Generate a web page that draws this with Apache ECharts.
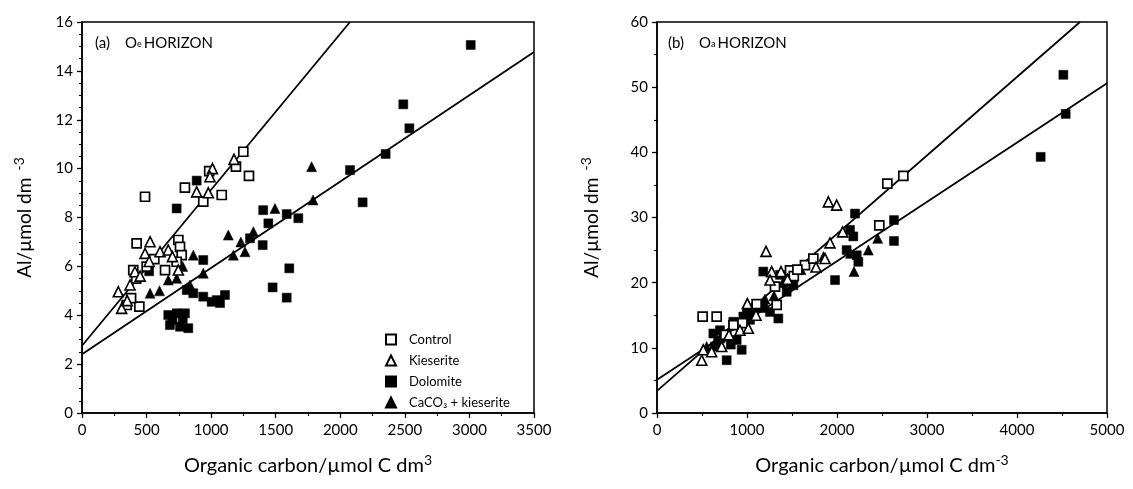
<!DOCTYPE html>
<html>
<head>
<meta charset="utf-8">
<script src="https://cdn.jsdelivr.net/npm/echarts@6/dist/echarts.min.js"></script>
<style>
  html, body { margin: 0; padding: 0; background: #fff; }
  #chart { width: 1133px; height: 489px; }
</style>
</head>
<body>
<div id="chart"></div>
<script>
// ---- Panel (a): Oe horizon — [organic C, Al] ----
const oeControl = [[1249,10.69],[1192,10.08],[1293,9.70],[985,9.9],[797,9.22],[1082,8.92],[488,8.85],[939,8.65],[423,6.94],[746,7.08],[759,6.8],[772,6.46],[643,5.85],[397,5.85],[501,5.99],[346,4.42],[444,4.35],[733,6.19],[560,6.3],[420,5.5],[380,4.7]];
const oeKieserite = [[1177,10.38],[1010,10.0],[991,9.67],[888,9.05],[978,9.01],[281,4.96],[307,4.28],[527,7.01],[488,6.53],[604,6.6],[668,6.67],[746,5.85],[372,5.24],[410,5.78],[520,6.2],[450,5.6],[350,4.6],[700,6.4]];
const oeDolomite = [[888,9.51],[733,8.37],[3010,15.06],[2488,12.63],[2535,11.65],[2351,10.6],[2075,9.94],[2173,8.62],[1403,8.30],[1585,8.14],[1675,7.97],[1443,7.76],[1301,7.15],[1399,6.87],[1605,5.92],[1476,5.14],[1585,4.72],[939,6.26],[811,5.03],[862,4.9],[939,4.76],[1004,4.55],[1043,4.62],[1107,4.83],[1069,4.5],[668,4.01],[733,4.08],[797,4.08],[681,3.6],[759,3.53],[823,3.47],[700,3.8],[780,3.85],[520,5.8]];
const oeCaco3 = [[1778,10.08],[1789,8.72],[1494,8.37],[1327,7.42],[1133,7.28],[1262,6.6],[1172,6.46],[862,6.46],[939,5.72],[836,5.24],[527,4.9],[668,5.44],[733,5.51],[1230,7.0],[600,5.0],[780,6.0]];
const oeFitSteep = [[0,2.75],[2075,16]];
const oeFitShallow = [[0,2.4],[3500,14.77]];

// ---- Panel (b): Oa horizon — [organic C, Al] ----
const oaControl = [[507,14.8],[663,14.8],[1107,16.7],[1330,16.6],[1478,21.9],[1644,22.7],[1737,23.7],[2470,28.8],[2559,35.2],[2737,36.4],[1311,19.4],[850,13.5],[760,12.0],[950,13.8],[1520,21.0],[1560,22.0]];
const oaKieserite = [[497,8.1],[514,9.7],[607,9.4],[719,10.2],[922,12.7],[1015,13.0],[1004,16.8],[1211,24.8],[1274,21.7],[1378,21.7],[1256,20.4],[1767,22.4],[1867,23.7],[1922,26.1],[2063,27.8],[1904,32.4],[1996,31.9],[800,12.0],[1100,15.0],[1450,20.5]];
const oaDolomite = [[4515,51.9],[4541,45.9],[4263,39.3],[2200,30.6],[2633,29.6],[2633,26.4],[2144,28.1],[2181,27.1],[2107,25.0],[2219,24.2],[2237,23.2],[1978,20.4],[1181,21.7],[1367,21.2],[1441,20.1],[1515,19.6],[1441,18.6],[1181,16.1],[1256,15.5],[1348,14.5],[700,12.7],[848,14.0],[959,14.8],[1033,14.3],[774,11.7],[885,11.2],[941,9.7],[774,8.1],[644,10.2],[626,12.2],[1000,15.5],[1100,16.2],[680,11.0],[820,10.5]];
const oaCaco3 = [[2452,26.8],[2348,25.0],[2189,21.7],[552,10.2],[700,11.5],[900,13.5],[1050,15.5],[1200,17.5],[1400,20.0],[1600,22.0],[2150,24.5],[1850,24.0],[1300,18.0]];
const oaFitSteep = [[0,3.4],[4700,60]];
const oaFitShallow = [[0,5.1],[5000,50.6]];

// ---- Axis ranges and tick steps ----
const xRangeA = [0, 3500, 500];
const yRangeA = [0, 16, 2];
const xRangeB = [0, 5000, 1000];
const yRangeB = [0, 60, 10];

const seriesNames = ['Control', 'Kieserite', 'Dolomite', 'CaCO\u2083 + kieserite'];

const FONT = 'Lato, "DejaVu Sans", sans-serif';
const INK = '#000';

const symbolStyles = [
  { symbol: 'rect', symbolSize: 9, itemStyle: { color: '#fff', borderColor: INK, borderWidth: 1.7, opacity: 1 } },
  { symbol: 'triangle', symbolSize: 10, itemStyle: { color: '#fff', borderColor: INK, borderWidth: 1.6, opacity: 1 } },
  { symbol: 'rect', symbolSize: 9, itemStyle: { color: INK, borderColor: INK, borderWidth: 0.5, opacity: 1 } },
  { symbol: 'triangle', symbolSize: 10, itemStyle: { color: INK, borderColor: INK, borderWidth: 0.5, opacity: 1 } }
];

function scatter(idx, gridIdx, data) {
  return Object.assign({
    type: 'scatter', name: seriesNames[idx], xAxisIndex: gridIdx, yAxisIndex: gridIdx,
    data: data, z: 3, animation: false
  }, symbolStyles[idx]);
}
function fitLine(gridIdx, data) {
  return {
    type: 'line', xAxisIndex: gridIdx, yAxisIndex: gridIdx, data: data,
    symbol: 'none', lineStyle: { color: INK, width: 1.8 }, z: 2, animation: false,
    silent: true
  };
}

const plainNumber = v => String(v);

const axisBase = {
  axisLine: { show: true, onZero: false, lineStyle: { color: INK, width: 1.5 } },
  axisTick: { show: true, inside: false, length: 5, lineStyle: { color: INK, width: 1.3 } },
  minorTick: { show: true, length: 3, lineStyle: { color: INK, width: 1.1 } },
  splitLine: { show: false },
  axisLabel: { color: INK, fontFamily: FONT, fontSize: 15, formatter: plainNumber }
};

function xAxis(gridIdx, r, nameText) {
  return Object.assign({}, axisBase, {
    type: 'value', gridIndex: gridIdx, min: r[0], max: r[1], interval: r[2],
    minorTick: Object.assign({}, axisBase.minorTick, { splitNumber: 2 }),
    axisLabel: Object.assign({}, axisBase.axisLabel, { margin: 10 }),
    name: nameText, nameLocation: 'middle', nameGap: 40,
    nameTextStyle: {
      color: INK, fontFamily: FONT, fontSize: 20,
      rich: {
        t: { fontFamily: FONT, fontSize: 20, color: INK },
        sup: { fontFamily: FONT, fontSize: 14, color: INK, padding: [0, 0, 11, 0] }
      }
    }
  });
}
function yAxis(gridIdx, r, minorSplit, gap) {
  return Object.assign({}, axisBase, {
    type: 'value', gridIndex: gridIdx, min: r[0], max: r[1], interval: r[2],
    minorTick: Object.assign({}, axisBase.minorTick, { splitNumber: minorSplit }),
    axisLabel: Object.assign({}, axisBase.axisLabel, { margin: 9 }),
    name: '{t|Al/\u00b5mol dm}{sup|  -3}', nameLocation: 'middle', nameGap: gap, nameRotate: 90,
    nameTextStyle: {
      color: INK, fontFamily: FONT, fontSize: 19,
      rich: {
        t: { fontFamily: FONT, fontSize: 19, color: INK },
        sup: { fontFamily: FONT, fontSize: 14, color: INK, padding: [0, 0, 12, 0] }
      }
    }
  });
}

const panelTitleRich = {
  p: { fontFamily: FONT, fontSize: 15, fontWeight: 'normal', color: INK },
  o: { fontFamily: FONT, fontSize: 15, fontWeight: 'normal', color: INK },
  s: { fontFamily: FONT, fontSize: 9, fontWeight: 'normal', color: INK, padding: [3, 2, 0, 0] },
  h: { fontFamily: FONT, fontSize: 15, fontWeight: 'normal', color: INK }
};

const chart = echarts.init(document.getElementById('chart'), null, { renderer: 'canvas' });
chart.setOption({
  backgroundColor: '#fff',
  animation: false,
  title: [
    { text: '{p|(a)}   {o|O}{s|e}{h|HORIZON}', left: 90, top: 29, textStyle: { fontWeight: 'normal', rich: panelTitleRich } },
    { text: '{p|(b)}   {o|O}{s|a}{h|HORIZON}', left: 663, top: 29, textStyle: { fontWeight: 'normal', rich: panelTitleRich } }
  ],
  grid: [
    { left: 82, top: 22, width: 452, height: 391, show: true, borderColor: INK, borderWidth: 1.5, backgroundColor: 'transparent' },
    { left: 657, top: 22, width: 450, height: 391, show: true, borderColor: INK, borderWidth: 1.5, backgroundColor: 'transparent' }
  ],
  legend: {
    data: seriesNames, orient: 'vertical', left: 380, top: 328,
    itemWidth: 10, itemHeight: 10, itemGap: 8, selectedMode: false,
    textStyle: { color: INK, fontFamily: FONT, fontSize: 13, padding: [0, 0, 0, 8] }
  },
  xAxis: [
    xAxis(0, xRangeA, '{t|Organic carbon/\u00b5mol C dm}{sup|3}'),
    xAxis(1, xRangeB, '{t|Organic carbon/\u00b5mol C dm}{sup|-3}')
  ],
  yAxis: [yAxis(0, yRangeA, 4, 44), yAxis(1, yRangeB, 2, 52)],
  series: [
    fitLine(0, oeFitSteep), fitLine(0, oeFitShallow),
    fitLine(1, oaFitSteep), fitLine(1, oaFitShallow),
    scatter(2, 0, oeDolomite), scatter(3, 0, oeCaco3),
    scatter(0, 0, oeControl), scatter(1, 0, oeKieserite),
    scatter(2, 1, oaDolomite), scatter(3, 1, oaCaco3),
    scatter(0, 1, oaControl), scatter(1, 1, oaKieserite)
  ]
});
</script>
</body>
</html>
